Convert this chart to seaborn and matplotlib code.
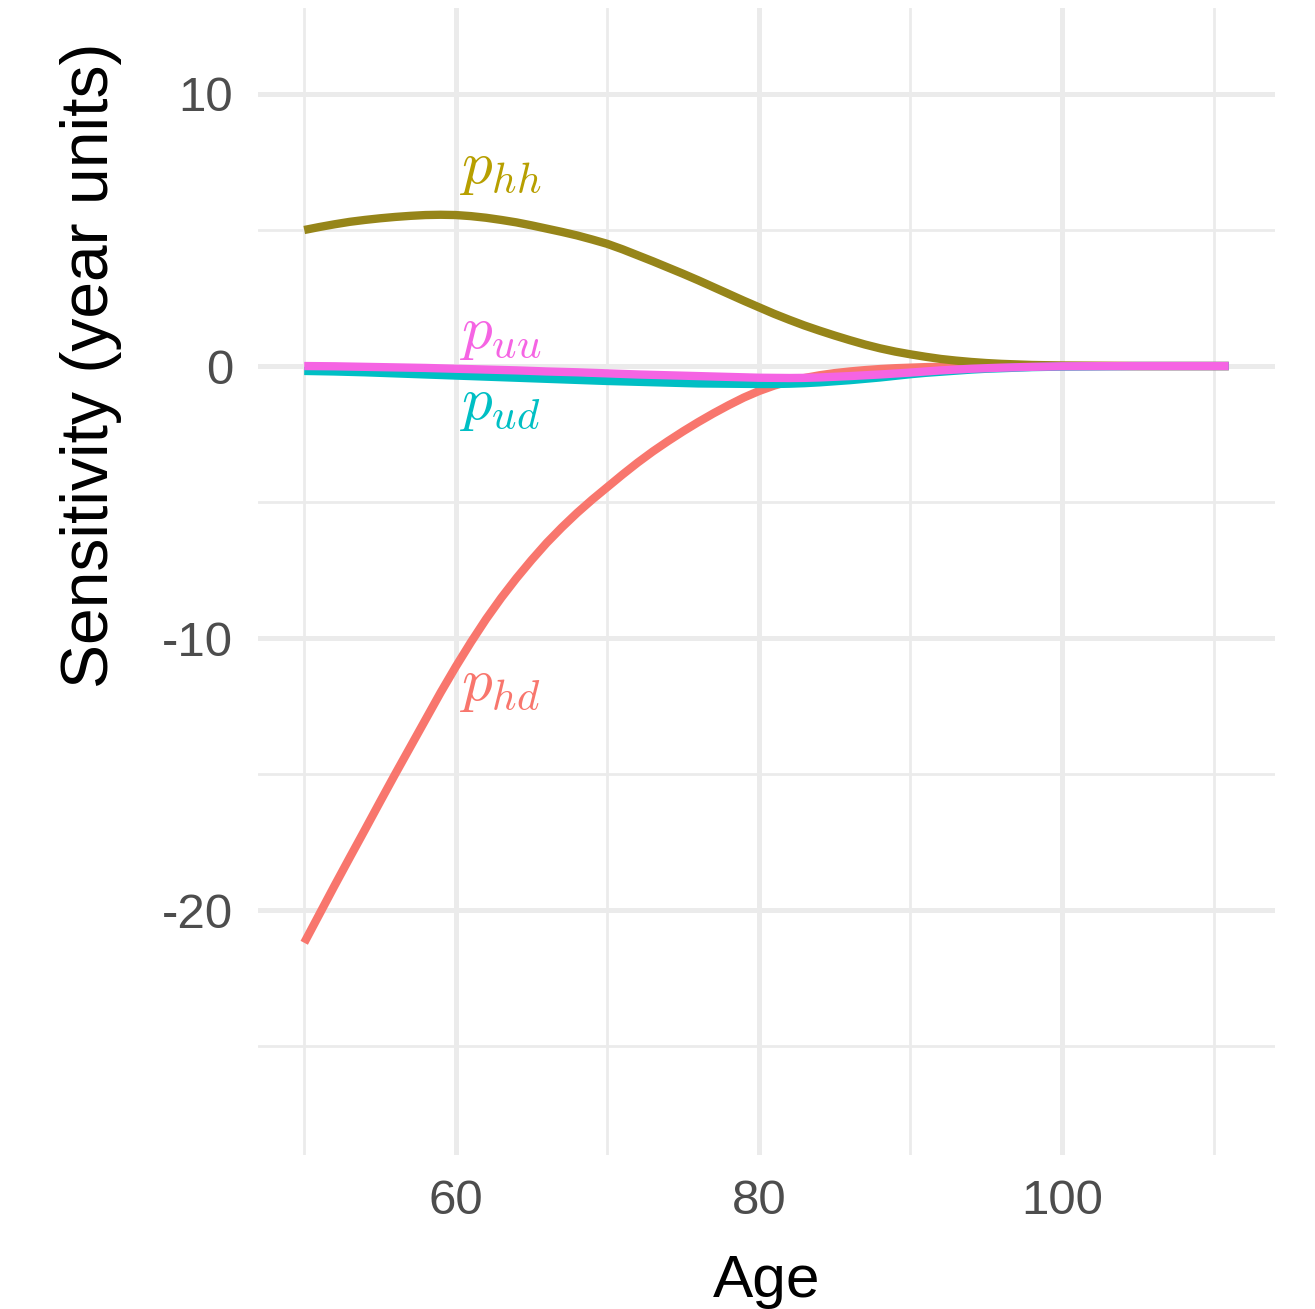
import matplotlib
matplotlib.use("Agg")
import matplotlib.pyplot as plt
import seaborn as sns
import pandas as pd
from matplotlib.ticker import FixedLocator

# ---- data ----
ages = list(range(50, 101)) + [105, 111]
phd = [-21.2, -20.15, -19.1, -18.07, -17.05, -16.02, -15.0, -14.0, -13.0, -12.0,
       -11.05, -10.15, -9.3, -8.52, -7.8, -7.13, -6.5, -5.93, -5.4, -4.91,
       -4.45, -3.99, -3.55, -3.14, -2.76, -2.4, -2.06, -1.74, -1.44, -1.16,
       -0.92, -0.72, -0.56, -0.44, -0.34, -0.26, -0.2, -0.15, -0.11, -0.08,
       -0.06, -0.04, -0.03, -0.02, -0.01, -0.005, 0.0, 0.0, 0.0, 0.0,
       0.0, 0.0, 0.0]
phh = [5.0, 5.11, 5.21, 5.3, 5.37, 5.43, 5.48, 5.52, 5.55, 5.56,
       5.55, 5.51, 5.45, 5.37, 5.28, 5.17, 5.05, 4.93, 4.8, 4.65,
       4.49, 4.29, 4.07, 3.85, 3.62, 3.39, 3.15, 2.9, 2.65, 2.4,
       2.16, 1.92, 1.7, 1.49, 1.3, 1.12, 0.95, 0.79, 0.65, 0.53,
       0.43, 0.34, 0.26, 0.2, 0.15, 0.11, 0.08, 0.06, 0.04, 0.03,
       0.02, 0.0, 0.0]
pud = [-0.18, -0.19, -0.2, -0.215, -0.23, -0.25, -0.27, -0.29, -0.31, -0.33,
       -0.35, -0.37, -0.39, -0.41, -0.43, -0.45, -0.47, -0.49, -0.51, -0.53,
       -0.55, -0.565, -0.58, -0.595, -0.61, -0.625, -0.64, -0.645, -0.65, -0.655,
       -0.66, -0.66, -0.65, -0.63, -0.6, -0.56, -0.52, -0.47, -0.42, -0.36,
       -0.3, -0.25, -0.21, -0.17, -0.13, -0.1, -0.08, -0.06, -0.04, -0.03,
       -0.02, 0.0, 0.0]
puu = [0.0, -0.005, -0.01, -0.02, -0.03, -0.04, -0.05, -0.06, -0.07, -0.085,
       -0.1, -0.115, -0.13, -0.145, -0.16, -0.18, -0.2, -0.215, -0.23, -0.25,
       -0.27, -0.29, -0.31, -0.325, -0.34, -0.355, -0.37, -0.385, -0.4, -0.415,
       -0.43, -0.435, -0.44, -0.435, -0.42, -0.395, -0.37, -0.34, -0.31, -0.275,
       -0.24, -0.2, -0.16, -0.13, -0.1, -0.08, -0.06, -0.045, -0.03, -0.02,
       -0.01, 0.0, 0.0]

series = ["phd", "phh", "pud", "puu"]
line_colors = ["#F8766D", "#968519", "#00BFC4", "#F564E3"]
label_colors = ["#F8766D", "#B79F00", "#00BFC4", "#F564E3"]
label_texts = [r"$p_{hd}$", r"$p_{hh}$", r"$p_{ud}$", r"$p_{uu}$"]
label_x = [60, 60, 60, 60]
label_y = [-11.75, 7.25, -1.4, 1.2]

x_major = [60, 80, 100]
x_minor = [50, 70, 90, 110]
y_major = [-20, -10, 0, 10]
y_minor = [-25, -15, -5, 5]

# ---- style ----
sns.set_theme(style="white")
plt.rcParams["font.family"] = ["Liberation Sans", "DejaVu Sans"]
plt.rcParams["mathtext.fontset"] = "cm"
plt.rcParams["axes.unicode_minus"] = False

df = pd.DataFrame({
    "Age": ages * 4,
    "value": phd + phh + pud + puu,
    "param": sum([[s] * len(ages) for s in series], []),
})

fig = plt.figure(figsize=(13.15, 13.09), dpi=100)
fig.patch.set_facecolor("white")
ax = fig.add_axes([258 / 1315, 1 - 1155 / 1309, (1275 - 258) / 1315, (1155 - 8) / 1309])

sns.lineplot(data=df, x="Age", y="value", hue="param", hue_order=series,
             palette=dict(zip(series, line_colors)), linewidth=6,
             errorbar=None, legend=False, ax=ax)
for ln in ax.get_lines():
    ln.set_solid_capstyle("butt")
    ln.set_solid_joinstyle("round")

for t, c, x, y in zip(label_texts, label_colors, label_x, label_y):
    ax.text(x + 0.2, y, t, color=c, fontsize=44, ha="left", va="center")

ax.set_xlim(46.95, 114.05)
ax.set_ylim(-29.0, 13.16)

ax.xaxis.set_major_locator(FixedLocator(x_major))
ax.xaxis.set_minor_locator(FixedLocator(x_minor))
ax.yaxis.set_major_locator(FixedLocator(y_major))
ax.yaxis.set_minor_locator(FixedLocator(y_minor))
ax.grid(which="major", color="#EBEBEB", linewidth=3.6)
ax.grid(which="minor", color="#EBEBEB", linewidth=2.0)
ax.set_axisbelow(True)
for s in ax.spines.values():
    s.set_visible(False)

ax.tick_params(axis="both", which="both", length=0, labelsize=35.5, labelcolor="#4D4D4D")
ax.tick_params(axis="x", pad=17)
ax.tick_params(axis="y", pad=18)

ax.set_xlabel("Age", fontsize=43.5, color="black")
ax.set_ylabel("Sensitivity (year units)", fontsize=47.5, color="black")
ax.xaxis.set_label_coords(0.5, (1155 - 1254) / 1147)
ax.yaxis.set_label_coords((122 - 258) / 1017, (1155 - 365) / 1147)

fig.savefig("out.png", dpi=100, facecolor="white")
